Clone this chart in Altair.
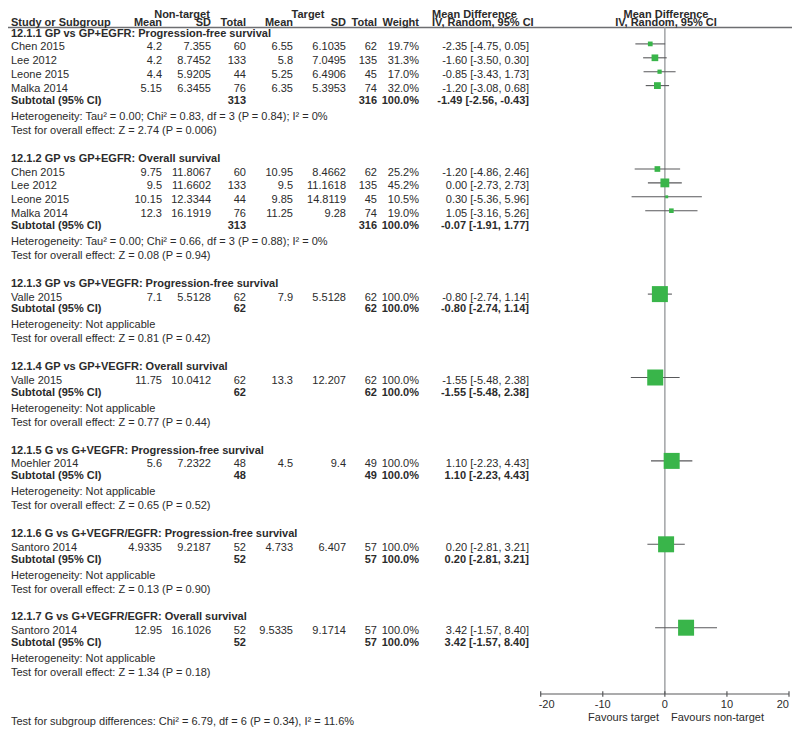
import altair as alt
import pandas as pd

# ---------------- data ----------------
subgroup_titles = [
    "12.1.1 GP vs GP+EGFR: Progression-free survival",
    "12.1.2 GP vs GP+EGFR: Overall survival",
    "12.1.3 GP vs GP+VEGFR: Progression-free survival",
    "12.1.4 GP vs GP+VEGFR: Overall survival",
    "12.1.5 G vs G+VEGFR: Progression-free survival",
    "12.1.6 G vs G+VEGFR/EGFR: Progression-free survival",
    "12.1.7 G vs G+VEGFR/EGFR: Overall survival",
]
study_names = ["Chen 2015", "Lee 2012", "Leone 2015", "Malka 2014",
               "Chen 2015", "Lee 2012", "Leone 2015", "Malka 2014",
               "Valle 2015", "Valle 2015", "Moehler 2014",
               "Santoro 2014", "Santoro 2014"]
study_group = [0, 0, 0, 0, 1, 1, 1, 1, 2, 3, 4, 5, 6]
nt_mean = ["4.2", "4.2", "4.4", "5.15", "9.75", "9.5", "10.15", "12.3",
           "7.1", "11.75", "5.6", "4.9335", "12.95"]
nt_sd = ["7.355", "8.7452", "5.9205", "6.3455", "11.8067", "11.6602", "12.3344",
         "16.1919", "5.5128", "10.0412", "7.2322", "9.2187", "16.1026"]
nt_total = [60, 133, 44, 76, 60, 133, 44, 76, 62, 62, 48, 52, 52]
t_mean = ["6.55", "5.8", "5.25", "6.35", "10.95", "9.5", "9.85", "11.25",
          "7.9", "13.3", "4.5", "4.733", "9.5335"]
t_sd = ["6.1035", "7.0495", "6.4906", "5.3953", "8.4662", "11.1618", "14.8119",
        "9.28", "5.5128", "12.207", "9.4", "6.407", "9.1714"]
t_total = [62, 135, 45, 74, 62, 135, 45, 74, 62, 62, 49, 57, 57]
weight = [19.7, 31.3, 17.0, 32.0, 25.2, 45.2, 10.5, 19.0, 100.0, 100.0, 100.0, 100.0, 100.0]
md = [-2.35, -1.60, -0.85, -1.20, -1.20, 0.00, 0.30, 1.05, -0.80, -1.55, 1.10, 0.20, 3.42]
md_lo = [-4.75, -3.50, -3.43, -3.08, -4.86, -2.73, -5.36, -3.16, -2.74, -5.48, -2.23, -2.81, -1.57]
md_hi = [0.05, 0.30, 1.73, 0.68, 2.46, 2.73, 5.96, 5.26, 1.14, 2.38, 4.43, 3.21, 8.40]

sub_nt_total = [313, 313, 62, 62, 48, 52, 52]
sub_t_total = [316, 316, 62, 62, 49, 57, 57]
sub_md = [-1.49, -0.07, -0.80, -1.55, 1.10, 0.20, 3.42]
sub_lo = [-2.56, -1.91, -2.74, -5.48, -2.23, -2.81, -1.57]
sub_hi = [-0.43, 1.77, 1.14, 2.38, 4.43, 3.21, 8.40]
sub_het = [
    "Heterogeneity: Tau² = 0.00; Chi² = 0.83, df = 3 (P = 0.84); I² = 0%",
    "Heterogeneity: Tau² = 0.00; Chi² = 0.66, df = 3 (P = 0.88); I² = 0%",
    "Heterogeneity: Not applicable",
    "Heterogeneity: Not applicable",
    "Heterogeneity: Not applicable",
    "Heterogeneity: Not applicable",
    "Heterogeneity: Not applicable",
]
sub_test = [
    "Test for overall effect: Z = 2.74 (P = 0.006)",
    "Test for overall effect: Z = 0.08 (P = 0.94)",
    "Test for overall effect: Z = 0.81 (P = 0.42)",
    "Test for overall effect: Z = 0.77 (P = 0.44)",
    "Test for overall effect: Z = 0.65 (P = 0.52)",
    "Test for overall effect: Z = 0.13 (P = 0.90)",
    "Test for overall effect: Z = 1.34 (P = 0.18)",
]
axis_ticks = [-20, -10, 0, 10, 20]
footer_text = "Test for subgroup differences: Chi² = 6.79, df = 6 (P = 0.34), I² = 11.6%"

# ---------------- layout (row structure) ----------------
FONT = "Liberation Sans"
FS = 11
TXT = "#2b2b2b"
GREEN = "#39B54A"
DY = 3.5

head_row, study_row, sub_row, het_row, test_row = [], [], [], [], []
r = 0
for g in range(len(subgroup_titles)):
    head_row.append(r); r += 1
    for sg in study_group:
        if sg == g:
            study_row.append(r); r += 1
    sub_row.append(r - 0.15); r += 1
    het_row.append(r); r += 1
    test_row.append(r); r += 2

AX_ROW = 47.77
HDR1, HDR2, HLINE = -0.863, -0.288, -0.18
TICKLAB_ROW, FAV_ROW, FOOT_ROW = 48.31, 49.24, 49.53

def ci_txt(m, lo, hi):
    return f"{m:.2f} [{lo:.2f}, {hi:.2f}]"

studies = pd.DataFrame({
    "name": study_names, "row": study_row,
    "ntm": nt_mean, "ntsd": nt_sd, "ntt": [str(v) for v in nt_total],
    "tm": t_mean, "tsd": t_sd, "tt": [str(v) for v in t_total],
    "w": weight, "wtxt": [f"{w:.1f}%" for w in weight],
    "md": md, "lo": md_lo, "hi": md_hi,
    "ci": [ci_txt(a, b, c) for a, b, c in zip(md, md_lo, md_hi)],
})
subs = pd.DataFrame({
    "title": subgroup_titles, "hrow": head_row, "srow": sub_row,
    "hetrow": het_row, "testrow": test_row,
    "label": ["Subtotal (95% CI)"] * len(subgroup_titles),
    "ntt": [str(v) for v in sub_nt_total], "tt": [str(v) for v in sub_t_total],
    "wtxt": ["100.0%"] * len(subgroup_titles),
    "ci": [ci_txt(a, b, c) for a, b, c in zip(sub_md, sub_lo, sub_hi)],
    "het": sub_het, "test": sub_test,
})

H = 0.38
dia_rows = []
for g, (m, lo, hi, rr) in enumerate(zip(sub_md, sub_lo, sub_hi, sub_row)):
    dia_rows += [
        {"g": g, "k": 0, "x": lo, "y1": rr, "y2": rr},
        {"g": g, "k": 1, "x": m, "y1": rr - H, "y2": rr + H},
        {"g": g, "k": 2, "x": hi, "y1": rr, "y2": rr},
    ]
diamonds = pd.DataFrame(dia_rows)

yscale = alt.Scale(domain=[0, 50], range=[22, 22 + 50 * 13.9], nice=False, zero=False)
xscale = alt.Scale(domain=[-20, 20], range=[532.7, 781], nice=False, zero=False)


def Y(field):
    return alt.Y(field, type="quantitative", scale=yscale, axis=None)


def X(field):
    return alt.X(field, type="quantitative", scale=xscale, axis=None)


def txt(df, field, row_field, px, align="left", bold=False, baseline="middle", dy=DY):
    return alt.Chart(df).mark_text(
        align=align, baseline=baseline, font=FONT, fontSize=FS,
        fontWeight="bold" if bold else "normal", color=TXT, dy=dy,
    ).encode(x=alt.value(px), y=Y(row_field), text=alt.Text(field, type="nominal"))


layers = []

# header rule
hdr_line = pd.DataFrame({"r": [HLINE]})
layers.append(alt.Chart(hdr_line).mark_rule(color="#6d6e71", strokeWidth=1.3).encode(
    x=alt.value(0), x2=alt.value(786), y=Y("r")))

# center line
center = pd.DataFrame({"x": [0], "y1": [HLINE], "y2": [AX_ROW]})
layers.append(alt.Chart(center).mark_rule(color="#a7a9ac", strokeWidth=1.6).encode(
    x=X("x"), y=Y("y1"), y2="y2:Q"))

# header texts
h1 = pd.DataFrame({"t": ["Non-target", "Target"], "r": [HDR1, HDR1]})
layers.append(txt(h1.iloc[[0]], "t", "r", 174, "center", True, "alphabetic", 0))
layers.append(txt(h1.iloc[[1]], "t", "r", 300, "center", True, "alphabetic", 0))
h_md = pd.DataFrame({"t": ["Mean Difference", "IV, Random, 95% CI"], "r": [HDR1, HDR2]})
layers.append(txt(h_md, "t", "r", 424, "left", True, "alphabetic", 0))
layers.append(txt(h_md, "t", "r", 658, "center", True, "alphabetic", 0))
h2_specs = [("Study or Subgroup", 3, "left"), ("Mean", 154, "right"), ("SD", 203, "right"),
            ("Total", 238, "right"), ("Mean", 285, "right"), ("SD", 338, "right"),
            ("Total", 369, "right"), ("Weight", 411, "right")]
for t, px, al in h2_specs:
    layers.append(txt(pd.DataFrame({"t": [t], "r": [HDR2]}), "t", "r", px, al, True, "alphabetic", 0))

# subgroup texts
layers.append(txt(subs, "title", "hrow", 3, "left", True))
layers.append(txt(subs, "label", "srow", 3, "left", True))
layers.append(txt(subs, "ntt", "srow", 238, "right", True))
layers.append(txt(subs, "tt", "srow", 369, "right", True))
layers.append(txt(subs, "wtxt", "srow", 411, "right", True))
layers.append(txt(subs, "ci", "srow", 521, "right", True))
layers.append(txt(subs, "het", "hetrow", 3, "left"))
layers.append(txt(subs, "test", "testrow", 3, "left"))

# study texts
layers.append(txt(studies, "name", "row", 3, "left"))
for f, px in [("ntm", 154), ("ntsd", 203), ("ntt", 238), ("tm", 285), ("tsd", 338),
              ("tt", 369), ("wtxt", 411), ("ci", 521)]:
    layers.append(txt(studies, f, "row", px, "right"))

# CI lines and squares
layers.append(alt.Chart(studies).mark_rule(color="#58595b", strokeWidth=1.1).encode(
    x=X("lo"), x2="hi:Q", y=Y("row")))
layers.append(alt.Chart(studies).mark_square(color=GREEN, opacity=1).encode(
    x=X("md"), y=Y("row"),
    size=alt.Size("w:Q", scale=alt.Scale(type="pow", exponent=1.5, domain=[0, 100], range=[0, 256]),
                  legend=None)))

# diamonds
layers.append(alt.Chart(diamonds).mark_area(color="#1a1a1a", orient="vertical", opacity=1).encode(
    x=X("x"), y=Y("y1"), y2="y2:Q", detail="g:N", order="k:Q"))

# axis
ticks = pd.DataFrame({"v": axis_ticks, "lab": [str(v) for v in axis_ticks],
                      "r1": [AX_ROW - 0.2] * 5, "r2": [AX_ROW + 0.2] * 5,
                      "rl": [TICKLAB_ROW] * 5})
ax_line = pd.DataFrame({"a": [axis_ticks[0]], "b": [axis_ticks[-1]], "r": [AX_ROW]})
layers.append(alt.Chart(ax_line).mark_rule(color="#58595b", strokeWidth=1.2).encode(
    x=X("a"), x2="b:Q", y=Y("r")))
layers.append(alt.Chart(ticks).mark_rule(color="#58595b", strokeWidth=1.2).encode(
    x=X("v"), y=Y("r1"), y2="r2:Q"))


def tick_labels(df, align, dx):
    return alt.Chart(df).mark_text(font=FONT, fontSize=FS, color=TXT, baseline="middle",
                                   align=align, dy=DY, dx=dx).encode(
        x=X("v"), y=Y("rl"), text="lab:N")


layers.append(tick_labels(ticks.iloc[[0]], "left", -2))
layers.append(tick_labels(ticks.iloc[1:4], "center", 0))
layers.append(tick_labels(ticks.iloc[[4]], "right", 0))

fav = pd.DataFrame({"t": ["Favours target", "Favours non-target"], "r": [FAV_ROW, FAV_ROW]})
layers.append(txt(fav.iloc[[0]], "t", "r", 651, "right"))
layers.append(txt(fav.iloc[[1]], "t", "r", 663, "left"))

foot = pd.DataFrame({"t": [footer_text], "r": [FOOT_ROW]})
layers.append(txt(foot, "t", "r", 3, "left"))

chart = alt.layer(*layers).properties(
    width=784, height=720, padding=0, autosize=alt.AutoSizeParams(type="none")
).configure_view(stroke=None)

chart.save("out.html", embed_options={"renderer": "svg", "actions": False})
